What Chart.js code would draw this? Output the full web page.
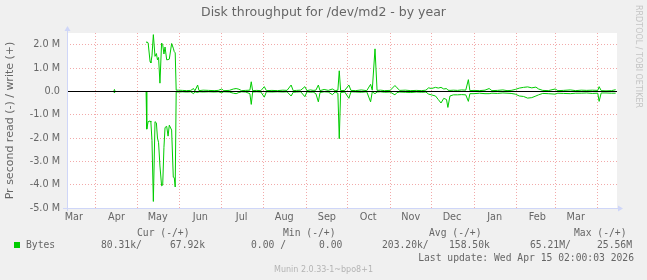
<!DOCTYPE html>
<html>
<head>
<meta charset="utf-8">
<title>Disk throughput for /dev/md2 - by year</title>
<script src="https://cdn.jsdelivr.net/npm/chart.js@4.4.1/dist/chart.umd.min.js"></script>
<style>
    html, body { margin: 0; padding: 0; background: #f0f0f0; }
    #grafico { display: block; }
</style>
</head>
<body>
<canvas id="grafico" width="647" height="280"></canvas>
<script>
// Dias desde 11/03/2025 (janela de 400 dias até 15/04/2026)
const dias = [
    34, 34.5, 35, 36,
    57.5, 58, 59, 60.4, 61, 61.8, 62.8, 64, 65, 65.8, 66.6, 67.6, 68.8, 69.6, 70.5, 71.3, 72.5, 73.5, 74.4, 76.1, 77.3, 78, 78.7, 79.4,
    81, 84, 87, 90, 92, 93, 95, 96, 99, 103, 107, 110, 112.5, 114, 118, 121, 123, 125, 127, 130, 133, 134, 135, 138,
    141, 143.5, 145, 149, 153, 157, 160, 163, 164.5, 167, 170, 173, 174.5, 177, 179, 181, 182.8, 184, 187, 190, 193, 195,
    197, 198, 199, 202, 205, 206.5, 210, 214, 218, 220.8, 222, 224, 225.5, 228, 231, 235, 238.5, 240, 242, 246, 250, 254,
    258, 261, 263, 265, 268, 270, 272, 274, 276, 277, 278.5, 281, 284, 287, 290, 291.9, 293, 296, 300, 304, 307, 309,
    313, 317, 320, 323, 326, 329, 332, 335, 338, 341, 343, 346, 350, 355, 357, 361, 366, 370, 374, 378, 382, 386,
    387, 388.5, 392, 396, 399
];
// Escrita (+), em M bytes/s
const escrita = [
    0, 0.08, 0, null,
    2.10, 2.12, 2.08, 1.28, 1.22, 1.52, 2.43, 1.50, 1.62, 1.35, 1.45, 0.35, 2.07, 2.00, 1.60, 1.90, 1.35, 1.36, 1.38, 2.05, 1.85, 1.70, 1.65, 0.05,
    0.05, 0.04, 0.03, 0.04, 0.12, 0.02, 0.27, 0.03, 0.05, 0.04, 0.03, 0.04, 0.10, 0.03, 0.04, 0.10, 0.12, 0.09, 0.03, 0.04, 0.05, 0.41, 0.03, 0.04,
    0.03, 0.20, 0.03, 0.04, 0.03, 0.05, 0.04, 0.27, 0.03, 0.04, 0.05, 0.20, 0.03, 0.06, 0.04, 0.05, 0.27, 0.03, 0.08, 0.04, 0.10, 0.03,
    0.05, 0.88, 0.03, 0.04, 0.27, 0.04, 0.03, 0.06, 0.03, 0.30, 0.05, 1.82, 0.04, 0.05, 0.03, 0.04, 0.25, 0.15, 0.04, 0.05, 0.03, 0.04,
    0.03, 0.05, 0.15, 0.12, 0.17, 0.14, 0.17, 0.10, 0.12, 0.05, 0.04, 0.05, 0.04, 0.06, 0.05, 0.50, 0.03, 0.04, 0.03, 0.05, 0.12, 0.03,
    0.04, 0.06, 0.03, 0.04, 0.08, 0.14, 0.17, 0.19, 0.15, 0.18, 0.10, 0.04, 0.03, 0.10, 0.03, 0.04, 0.06, 0.03, 0.05, 0.04, 0.05, 0.04,
    0.20, 0.03, 0.02, 0.03, 0.07
];
// Leitura (-), em M bytes/s (desenhada abaixo do zero)
const leitura = [
    0, 0.07, 0, null,
    0.00, 1.62, 1.30, 1.27, 1.32, 2.10, 4.72, 1.30, 1.35, 2.00, 2.20, 3.20, 4.05, 4.02, 2.40, 1.55, 1.50, 1.92, 1.45, 1.66, 3.68, 3.70, 4.10, 0.02,
    0.03, 0.02, 0.03, 0.02, 0.10, 0.02, 0.05, 0.02, 0.03, 0.02, 0.03, 0.02, 0.06, 0.02, 0.03, 0.08, 0.10, 0.05, 0.02, 0.03, 0.10, 0.56, 0.03, 0.02,
    0.03, 0.25, 0.02, 0.03, 0.02, 0.03, 0.02, 0.20, 0.04, 0.03, 0.02, 0.23, 0.02, 0.04, 0.03, 0.10, 0.45, 0.05, 0.02, 0.03, 0.14, 0.03,
    0.08, 2.03, 0.05, 0.03, 0.30, 0.02, 0.03, 0.04, 0.02, 0.45, 0.02, 0.10, 0.03, 0.02, 0.04, 0.03, 0.15, 0.05, 0.03, 0.04, 0.05, 0.03,
    0.04, 0.03, 0.12, 0.15, 0.20, 0.35, 0.50, 0.30, 0.35, 0.69, 0.20, 0.15, 0.15, 0.14, 0.15, 0.43, 0.10, 0.10, 0.08, 0.10, 0.10, 0.08,
    0.09, 0.07, 0.08, 0.09, 0.12, 0.20, 0.22, 0.29, 0.27, 0.20, 0.15, 0.09, 0.10, 0.12, 0.08, 0.09, 0.10, 0.08, 0.08, 0.07, 0.09, 0.08,
    0.43, 0.07, 0.07, 0.08, 0.08
];

// Eixo X: início de cada mês (grade) e meio do mês (rótulos)
const inicioMeses = [21, 51, 82, 112, 143, 174, 204, 235, 265, 296, 327, 355, 386];
const meioMeses = [5, 36, 66, 97, 127, 158, 189, 219, 250, 280, 311, 342, 370];
const rotulosMeses = ['Mar', 'Apr', 'May', 'Jun', 'Jul', 'Aug', 'Sep', 'Oct', 'Nov', 'Dec', 'Jan', 'Feb', 'Mar'];

// Eixo Y em M
const ticksY = [-5, -4.5, -4, -3.5, -3, -2.5, -2, -1.5, -1, -0.5, 0, 0.5, 1, 1.5, 2, 2.5];

// Legenda do Munin
const cabecalhoLegenda = ['Cur (-/+)', 'Min (-/+)', 'Avg (-/+)', 'Max (-/+)'];
const valoresLegenda = ['80.31k/', '67.92k', '0.00 /', '0.00', '203.20k/', '158.50k', '65.21M/', '25.56M'];
const ultimaAtualizacao = 'Last update: Wed Apr 15 02:00:03 2026';

const VERDE = '#00cc00';
const ROSA = '#f2aaaa';
const CINZA = '#cfcfcf';
const EIXO = '#cfd6f8';
const FONTE = '#666666';

const pontosEscrita = dias.map((d, i) => ({ x: d, y: escrita[i] === null ? null : escrita[i] }));
const pontosLeitura = dias.map((d, i) => ({ x: d, y: leitura[i] === null ? null : -leitura[i] }));

// Plugin para fundo, linha do zero, eixos com setas e textos do rrdtool
const estiloMunin = {
    id: 'estiloMunin',
    beforeDraw(chart) {
        const { ctx, chartArea: a } = chart;
        ctx.save();
        ctx.fillStyle = '#f0f0f0';
        ctx.fillRect(0, 0, chart.width, chart.height);
        ctx.fillStyle = '#ffffff';
        ctx.fillRect(a.left, a.top, a.right - a.left, a.bottom - a.top);
        ctx.restore();
    },
    afterDatasetsDraw(chart) {
        const { ctx, chartArea: a, scales } = chart;
        const y0 = Math.round(scales.y.getPixelForValue(0)) + 0.5;
        ctx.save();
        ctx.lineWidth = 1;
        ctx.strokeStyle = '#000000';
        ctx.beginPath();
        ctx.moveTo(a.left, y0);
        ctx.lineTo(a.right, y0);
        ctx.stroke();

        // eixos
        const xe = Math.round(a.left) + 0.5;
        const yb = Math.round(a.bottom) + 0.5;
        ctx.strokeStyle = EIXO;
        ctx.fillStyle = EIXO;
        ctx.beginPath();
        ctx.moveTo(xe, a.bottom + 3);
        ctx.lineTo(xe, a.top - 4);
        ctx.moveTo(a.left - 4, yb);
        ctx.lineTo(a.right + 3, yb);
        ctx.stroke();
        ctx.beginPath();
        ctx.moveTo(xe, a.top - 7);
        ctx.lineTo(xe - 3, a.top - 2);
        ctx.lineTo(xe + 3, a.top - 2);
        ctx.closePath();
        ctx.fill();
        ctx.beginPath();
        ctx.moveTo(a.right + 6, yb);
        ctx.lineTo(a.right + 1, yb - 3);
        ctx.lineTo(a.right + 1, yb + 3);
        ctx.closePath();
        ctx.fill();
        ctx.restore();
    },
    afterDraw(chart) {
        const { ctx, chartArea: a } = chart;
        ctx.save();
        ctx.fillStyle = FONTE;
        ctx.textBaseline = 'middle';

        // título
        ctx.textAlign = 'center';
        ctx.font = '12.5px "DejaVu Sans"';
        ctx.fillText('Disk throughput for /dev/md2 - by year', chart.width / 2, 13);

        // rótulo vertical do eixo Y
        ctx.save();
        ctx.translate(10, (a.top + a.bottom) / 2);
        ctx.rotate(-Math.PI / 2);
        ctx.textAlign = 'center';
        ctx.font = '11px "DejaVu Sans"';
        ctx.fillText('Pr second read (-) / write (+)', 0, 0);
        ctx.restore();

        // marca d'água do rrdtool
        ctx.save();
        ctx.translate(638, 5);
        ctx.rotate(Math.PI / 2);
        ctx.textAlign = 'left';
        ctx.fillStyle = '#c4c4c4';
        ctx.font = '8px "DejaVu Sans"';
        ctx.fillText('RRDTOOL / TOBI OETIKER', 0, 0);
        ctx.restore();

        // legenda
        ctx.font = '9.7px "DejaVu Sans Mono"';
        ctx.textAlign = 'left';
        const colCab = [137, 283, 429, 574];
        cabecalhoLegenda.forEach((t, i) => ctx.fillText(t, colCab[i], 233));
        ctx.fillStyle = VERDE;
        ctx.fillRect(14, 242, 6, 6);
        ctx.fillStyle = FONTE;
        ctx.fillText('Bytes', 26, 245.5);
        const colVal = [101, 170, 251, 319, 382, 449, 530, 597];
        valoresLegenda.forEach((t, i) => ctx.fillText(t, colVal[i], 245.5));
        ctx.textAlign = 'right';
        ctx.fillText(ultimaAtualizacao, 634, 258);

        ctx.textAlign = 'center';
        ctx.fillStyle = '#b4b4b4';
        ctx.font = '8px "DejaVu Sans"';
        ctx.fillText('Munin 2.0.33-1~bpo8+1', 323.5, 270);
        ctx.restore();
    }
};

const ctxGrafico = document.getElementById('grafico').getContext('2d');
new Chart(ctxGrafico, {
    type: 'line',
    data: {
        datasets: [{
            label: 'Bytes (write)',
            data: pontosEscrita,
            borderColor: VERDE,
            borderWidth: 1,
            pointRadius: 0,
            tension: 0,
            spanGaps: false,
            fill: false
        }, {
            label: 'Bytes (read)',
            data: pontosLeitura,
            borderColor: VERDE,
            borderWidth: 1,
            pointRadius: 0,
            tension: 0,
            spanGaps: false,
            fill: false
        }]
    },
    options: {
        responsive: false,
        animation: false,
        devicePixelRatio: 1,
        layout: {
            autoPadding: false,
            padding: { left: 0, right: 30, top: 33, bottom: 0 }
        },
        plugins: {
            legend: { display: false },
            tooltip: { enabled: false },
            title: { display: false }
        },
        scales: {
            x: {
                type: 'linear',
                position: 'bottom',
                min: 0,
                max: 400,
                afterBuildTicks: (eixo) => { eixo.ticks = inicioMeses.map(v => ({ value: v })); },
                afterFit: (eixo) => { eixo.height = 0; },
                ticks: { display: false },
                grid: { color: ROSA, drawTicks: false },
                border: { display: false, dash: [1, 2] }
            },
            xRotulo: {
                type: 'linear',
                axis: 'x',
                position: 'bottom',
                min: 0,
                max: 400,
                afterBuildTicks: (eixo) => { eixo.ticks = meioMeses.map(v => ({ value: v })); },
                afterFit: (eixo) => { eixo.height = 72; },
                ticks: {
                    autoSkip: false,
                    maxRotation: 0,
                    minRotation: 0,
                    padding: 4,
                    color: FONTE,
                    font: { family: 'DejaVu Sans', size: 9.7 },
                    callback: (v, i) => rotulosMeses[i]
                },
                grid: { display: false, drawTicks: false },
                border: { display: false }
            },
            y: {
                type: 'linear',
                min: -5,
                max: 2.5,
                afterBuildTicks: (eixo) => { eixo.ticks = ticksY.map(v => ({ value: v })); },
                afterFit: (eixo) => { eixo.width = 67; },
                ticks: {
                    padding: 7,
                    color: FONTE,
                    font: { family: 'DejaVu Sans', size: 9.7 },
                    callback: (v) => {
                        if (v % 1 !== 0) return '';
                        if (v === 0) return '0.0';
                        return v.toFixed(1) + ' M';
                    }
                },
                grid: {
                    drawTicks: false,
                    color: (c) => (c.tick && c.tick.value % 1 === 0 ? ROSA : CINZA)
                },
                border: { display: false, dash: [1, 2] }
            }
        }
    },
    plugins: [estiloMunin]
});
</script>
</body>
</html>
